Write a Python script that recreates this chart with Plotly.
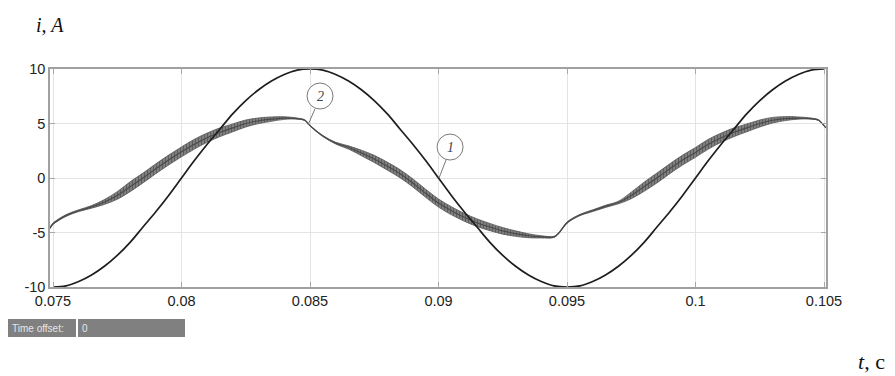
import plotly.graph_objects as go

# ---------------- data ----------------
# curve 1: supply current, sampled every 0.5 ms
t1 = [0.0750, 0.0755, 0.0760, 0.0765, 0.0770, 0.0775, 0.0780, 0.0785, 0.0790, 0.0795,
      0.0800, 0.0805, 0.0810, 0.0815, 0.0820, 0.0825, 0.0830, 0.0835, 0.0840, 0.0845,
      0.0850, 0.0855, 0.0860, 0.0865, 0.0870, 0.0875, 0.0880, 0.0885, 0.0890, 0.0895,
      0.0900, 0.0905, 0.0910, 0.0915, 0.0920, 0.0925, 0.0930, 0.0935, 0.0940, 0.0945,
      0.0950, 0.0955, 0.0960, 0.0965, 0.0970, 0.0975, 0.0980, 0.0985, 0.0990, 0.0995,
      0.1000, 0.1005, 0.1010, 0.1015, 0.1020, 0.1025, 0.1030, 0.1035, 0.1040, 0.1045,
      0.1050]
i1 = [-10.0, -9.9, -9.5, -8.9, -8.1, -7.1, -5.9, -4.5, -3.1, -1.6,
      0.0, 1.6, 3.1, 4.5, 5.9, 7.1, 8.1, 8.9, 9.5, 9.9,
      10.0, 9.9, 9.5, 8.9, 8.1, 7.1, 5.9, 4.5, 3.1, 1.6,
      0.0, -1.6, -3.1, -4.5, -5.9, -7.1, -8.1, -8.9, -9.5, -9.9,
      -10.0, -9.9, -9.5, -8.9, -8.1, -7.1, -5.9, -4.5, -3.1, -1.6,
      0.0, 1.6, 3.1, 4.5, 5.9, 7.1, 8.1, 8.9, 9.5, 9.9,
      10.0]

# curve 2: load current (centre line) and half-width of its PWM ripple band
t2 = [0.07488, 0.0750, 0.0755, 0.0760, 0.0765, 0.0770, 0.0775, 0.0780, 0.0785, 0.0790,
      0.0795, 0.0800, 0.0805, 0.0810, 0.0815, 0.0820, 0.0825, 0.0830, 0.0835, 0.0840,
      0.0845, 0.0848, 0.0850, 0.0855, 0.0860, 0.0865, 0.0870, 0.0875, 0.0880, 0.0885,
      0.0890, 0.0895, 0.0900, 0.0905, 0.0910, 0.0915, 0.0920, 0.0925, 0.0930, 0.0935,
      0.0940, 0.0945, 0.0947, 0.0950, 0.0955, 0.0960, 0.0965, 0.0970, 0.0975, 0.0980,
      0.0985, 0.0990, 0.0995, 0.1000, 0.1005, 0.1010, 0.1015, 0.1020, 0.1025, 0.1030,
      0.1035, 0.1040, 0.1045, 0.1048, 0.1050, 0.10508]
i2 = [-4.6, -4.2, -3.45, -3.0, -2.65, -2.2, -1.6, -0.8, 0.0, 0.85,
      1.65, 2.4, 3.1, 3.7, 4.2, 4.6, 5.0, 5.25, 5.4, 5.5,
      5.45, 5.3, 4.8, 3.85, 3.2, 2.8, 2.3, 1.75, 1.1, 0.4,
      -0.45, -1.4, -2.3, -3.0, -3.6, -4.1, -4.5, -4.85, -5.1, -5.3,
      -5.4, -5.4, -5.0, -4.1, -3.4, -3.0, -2.6, -2.25, -1.6, -0.8,
      0.0, 0.85, 1.65, 2.35, 3.1, 3.7, 4.2, 4.6, 5.0, 5.3,
      5.45, 5.5, 5.45, 5.3, 4.8, 4.6]
ripple2 = [0.06, 0.06, 0.08, 0.08, 0.12, 0.22, 0.35, 0.45, 0.45, 0.45,
           0.45, 0.45, 0.45, 0.42, 0.4, 0.36, 0.32, 0.26, 0.2, 0.12,
           0.05, 0.03, 0.03, 0.05, 0.08, 0.15, 0.25, 0.33, 0.36, 0.37,
           0.37, 0.37, 0.37, 0.37, 0.36, 0.35, 0.33, 0.3, 0.25, 0.18,
           0.1, 0.05, 0.04, 0.06, 0.06, 0.08, 0.1, 0.12, 0.3, 0.42,
           0.45, 0.45, 0.45, 0.45, 0.45, 0.42, 0.4, 0.36, 0.32, 0.26,
           0.18, 0.1, 0.05, 0.03, 0.03, 0.03]

x_ticks = [0.075, 0.08, 0.085, 0.09, 0.095, 0.1, 0.105]
x_ticktext = ["0.075", "0.08", "0.085", "0.09", "0.095", "0.1", "0.105"]
y_ticks = [-10, -5, 0, 5, 10]
y_ticktext = ["-10", "-5", "0", "5", "10"]

# ---------------- figure ----------------
upper2 = [c + h for c, h in zip(i2, ripple2)]
lower2 = [c - h for c, h in zip(i2, ripple2)]

fig = go.Figure()
fig.add_trace(go.Scatter(x=t2, y=upper2, mode="lines",
                         line=dict(color="#555555", width=0.8, shape="spline"),
                         hoverinfo="skip", showlegend=False))
fig.add_trace(go.Scatter(x=t2, y=lower2, mode="lines", fill="tonexty",
                         fillpattern=dict(shape="|", size=3, solidity=0.5,
                                          fgcolor="#2e2e2e", bgcolor="#8c8c8c"),
                         line=dict(color="#555555", width=0.8, shape="spline"),
                         hoverinfo="skip", showlegend=False))
fig.add_trace(go.Scatter(x=t2, y=i2, mode="lines",
                         line=dict(color="#4a4a4a", width=1.2, shape="spline", smoothing=0.6),
                         showlegend=False))
fig.add_trace(go.Scatter(x=t1, y=i1, mode="lines",
                         line=dict(color="#1e1e1e", width=1.7, shape="spline"),
                         showlegend=False))

tick_font = dict(family="Liberation Sans, Arial, sans-serif", size=14.5, color="#222222")
fig.update_xaxes(range=[0.074883, 0.105078], tickvals=x_ticks, ticktext=x_ticktext,
                 showgrid=True, gridcolor="#e4e4e4", gridwidth=1, zeroline=False,
                 showline=True, linecolor="#a0a0a0", linewidth=1.5, mirror="ticks",
                 ticks="inside", ticklen=5, tickcolor="#a8a8a8", tickfont=tick_font)
fig.update_yaxes(range=[-10, 10], tickvals=y_ticks, ticktext=y_ticktext,
                 showgrid=True, gridcolor="#e4e4e4", gridwidth=1, zeroline=False,
                 showline=True, linecolor="#a0a0a0", linewidth=1.5, mirror="ticks",
                 ticks="inside", ticklen=5, tickcolor="#a8a8a8", tickfont=tick_font)

# pixel helpers for decorations (plot area: x 50..826, y 69..287)
def xp(px):
    return (px - 50) / 776.0

def yp(py):
    return (287 - py) / 218.0

shapes = []
annotations = []
# circled curve labels
for (cx, cy, px0, py0, dx, dy, txt) in [
    (0.08539, 7.52, 0.08492, 4.86, 7, 16, "2"),
    (0.09045, 2.84, 0.09002, 0.0, 7, 18, "1"),
]:
    shapes.append(dict(type="circle", xref="x", yref="y", xsizemode="pixel", ysizemode="pixel",
                       xanchor=cx, yanchor=cy, x0=-13, x1=13, y0=-13, y1=13,
                       line=dict(color="#7a7a7a", width=1), fillcolor="white"))
    shapes.append(dict(type="line", xref="x", yref="y", xsizemode="pixel", ysizemode="pixel",
                       xanchor=px0, yanchor=py0, x0=0, y0=0, x1=dx, y1=dy,
                       line=dict(color="#7a7a7a", width=1)))
    annotations.append(dict(x=cx, y=cy, xref="x", yref="y", text="<i>" + txt + "</i>",
                            showarrow=False, font=dict(family="Liberation Serif", size=14, color="#444444")))

# "Time offset" widget
shapes.append(dict(type="rect", xref="paper", yref="paper", x0=xp(8), x1=xp(76), y0=yp(337), y1=yp(319),
                   fillcolor="#808080", line=dict(width=0), layer="above"))
shapes.append(dict(type="rect", xref="paper", yref="paper", x0=xp(78), x1=xp(185), y0=yp(337), y1=yp(319),
                   fillcolor="#808080", line=dict(width=0), layer="above"))
annotations.append(dict(x=xp(10), y=yp(328), xref="paper", yref="paper", xanchor="left", yanchor="middle",
                        text="Time offset:", showarrow=False,
                        font=dict(family="Liberation Sans", size=10, color="#e6e6e6")))
annotations.append(dict(x=xp(80), y=yp(328), xref="paper", yref="paper", xanchor="left", yanchor="middle",
                        text="0", showarrow=False,
                        font=dict(family="Liberation Sans", size=10, color="#e6e6e6")))

# axis titles
annotations.append(dict(x=xp(34), y=yp(25), xref="paper", yref="paper", xanchor="left", yanchor="middle",
                        text="<i>i, A</i>", showarrow=False,
                        font=dict(family="Liberation Serif", size=20, color="#111111")))
annotations.append(dict(x=xp(856), y=yp(361), xref="paper", yref="paper", xanchor="left", yanchor="middle",
                        text="<i>t</i>, с", showarrow=False,
                        font=dict(family="Liberation Serif", size=22, color="#111111")))

fig.update_layout(width=895, height=376, margin=dict(l=50, r=69, t=69, b=89),
                  plot_bgcolor="white", paper_bgcolor="white",
                  shapes=shapes, annotations=annotations, showlegend=False)

fig.write_html("out.html", config={"displayModeBar": False})
